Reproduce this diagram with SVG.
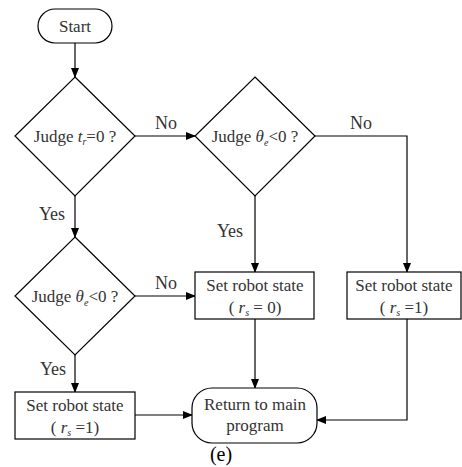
<svg xmlns="http://www.w3.org/2000/svg" width="462" height="467" viewBox="0 0 462 467">
<style>
.s{fill:#fff;stroke:#000;stroke-width:1.2}
.c{fill:none;stroke:#000;stroke-width:1.2}
text{font-family:"Liberation Serif","Times New Roman",serif;font-size:17px;fill:#333;text-anchor:middle}
.l{font-size:18px}
.i{font-style:italic}
.sub{font-size:10px}
</style>
<defs>
<marker id="a" markerWidth="10" markerHeight="8" refX="9" refY="4" orient="auto" markerUnits="userSpaceOnUse">
<path d="M0,0 L10,4 L0,8 Z" fill="#000"/>
</marker>
</defs>
<rect width="462" height="467" fill="#fff"/>
<g id="connectors">
<path class="c" d="M75,43 V77" marker-end="url(#a)"/>
<path class="c" d="M135,136 H195" marker-end="url(#a)"/>
<path class="c" d="M315,136 H407 V272" marker-end="url(#a)"/>
<path class="c" d="M255,196 V272" marker-end="url(#a)"/>
<path class="c" d="M75,196 V237" marker-end="url(#a)"/>
<path class="c" d="M135,296 H195" marker-end="url(#a)"/>
<path class="c" d="M75,355 V392" marker-end="url(#a)"/>
<path class="c" d="M135,415 H192" marker-end="url(#a)"/>
<path class="c" d="M255,319 V388" marker-end="url(#a)"/>
<path class="c" d="M407,319 V420 H317" marker-end="url(#a)"/>
</g>
<g id="labels">
<text class="l" x="166" y="129">No</text>
<text class="l" x="361" y="129">No</text>
<text class="l" x="230" y="237">Yes</text>
<text class="l" x="52" y="220">Yes</text>
<text class="l" x="166" y="289">No</text>
<text class="l" x="53" y="375">Yes</text>
</g>
<g id="start">
<rect class="s" x="38" y="9" width="74" height="34" rx="17"/>
<text x="75" y="32">Start</text>
</g>
<g id="judge1">
<path class="s" d="M75,77 L135,136 L75,196 L15,136 Z"/>
<text x="75" y="142">Judge <tspan class="i">t</tspan><tspan class="i sub" dy="3">r</tspan><tspan dy="-3">=0 ?</tspan></text>
</g>
<g id="judge2">
<path class="s" d="M255,77 L315,136 L255,196 L195,136 Z"/>
<text x="255" y="142">Judge <tspan class="i">θ</tspan><tspan class="i sub" dy="4">e</tspan><tspan dy="-4">&lt;0 ?</tspan></text>
</g>
<g id="judge3">
<path class="s" d="M75,237 L135,296 L75,355 L15,296 Z"/>
<text x="75" y="302">Judge <tspan class="i">θ</tspan><tspan class="i sub" dy="4">e</tspan><tspan dy="-4">&lt;0 ?</tspan></text>
</g>
<g id="set0">
<rect class="s" x="195" y="272" width="119" height="47"/>
<text x="255" y="291">Set robot state</text>
<text x="255" y="313">( <tspan class="i">r</tspan><tspan class="i sub" dy="3">s</tspan><tspan dy="-3"> = 0)</tspan></text>
</g>
<g id="set1a">
<rect class="s" x="347" y="272" width="114" height="47"/>
<text x="404" y="291">Set robot state</text>
<text x="404" y="313">( <tspan class="i">r</tspan><tspan class="i sub" dy="3">s</tspan><tspan dy="-3"> =1)</tspan></text>
</g>
<g id="set1b">
<rect class="s" x="15" y="392" width="120" height="47"/>
<text x="75" y="411">Set robot state</text>
<text x="75" y="433">( <tspan class="i">r</tspan><tspan class="i sub" dy="3">s</tspan><tspan dy="-3"> =1)</tspan></text>
</g>
<g id="return">
<rect class="s" x="192" y="388" width="125" height="55" rx="20"/>
<text x="255" y="410">Return to main</text>
<text x="255" y="431">program</text>
</g>
<text x="221" y="461" style="font-size:20px;fill:#000">(e)</text>
</svg>
